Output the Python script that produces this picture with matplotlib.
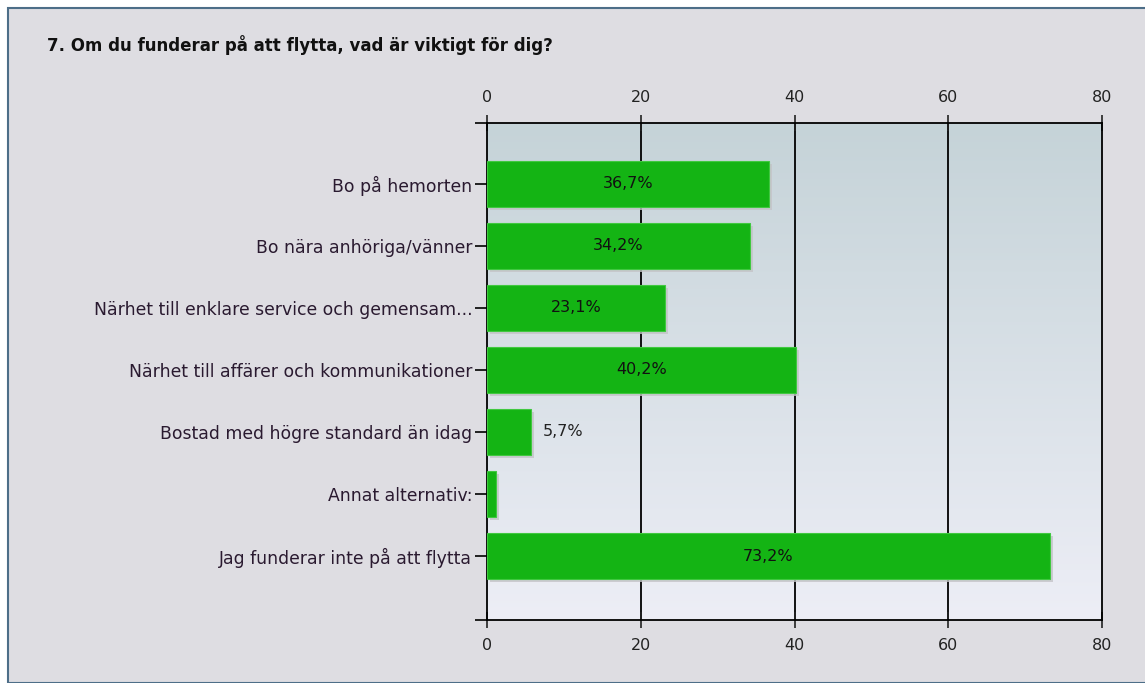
import numpy as np
import matplotlib
matplotlib.use('Agg')
import matplotlib.pyplot as plt
from matplotlib.patches import Rectangle
import matplotlib.transforms as mtransforms

# Data
title = '7. Om du funderar på att flytta, vad är viktigt för dig?'
categories = [
    'Bo på hemorten',
    'Bo nära anhöriga/vänner',
    'Närhet till enklare service och gemensam...',
    'Närhet till affärer och kommunikationer',
    'Bostad med högre standard än idag',
    'Annat alternativ:',
    'Jag funderar inte på att flytta',
]
values = [36.7, 34.2, 23.1, 40.2, 5.7, 1.2, 73.2]
labels = ['36,7%', '34,2%', '23,1%', '40,2%', '5,7%', '', '73,2%']
xticks = [0, 20, 40, 60, 80]

plt.rcParams['font.family'] = ['DejaVu Sans']

fig = plt.figure(figsize=(11.45, 6.83), dpi=100)
fig.patch.set_facecolor('white')

# outer panel with border
panel = Rectangle((8 / 1145, 0), 1.0, 1 - 8 / 683, transform=fig.transFigure,
                  facecolor='#dedde2', edgecolor='#4d6e88', linewidth=1.5, zorder=0)
fig.patches.append(panel)

fig.text(47 / 1145, 1 - 45 / 683, title, fontsize=12, fontweight='bold',
         color='#111111', va='center', ha='left')

ax = fig.add_axes([487 / 1145, 1 - 620 / 683, 615 / 1145, 497 / 683])
ax.set_zorder(2)
y_lo, y_hi = 7.03, -0.98
ax.set_xlim(0, 80)
ax.set_ylim(y_lo, y_hi)

# gradient background
grad = np.linspace(0, 1, 256).reshape(-1, 1)
top = np.array([0xc5, 0xd3, 0xd8]) / 255
bot = np.array([0xed, 0xee, 0xf6]) / 255
img = top + (bot - top) * grad[:, :, None]
ax.imshow(img, extent=[0, 80, y_lo, y_hi], aspect='auto', zorder=0)

for x in xticks[1:-1]:
    ax.axvline(x, color='black', linewidth=1.3, zorder=1)

y = np.arange(len(categories))
shadow = mtransforms.offset_copy(ax.transData, fig=fig, x=3, y=-3, units='dots')
ax.barh(y, values, height=0.74, color='#c4c4c8', alpha=0.8, transform=shadow, zorder=2)
ax.barh(y, values, height=0.74, color='#14b414', edgecolor='#40c840', linewidth=0.8, zorder=3)

for yi, v, lab in zip(y, values, labels):
    if not lab:
        continue
    if v > 15:
        ax.text(v / 2, yi, lab, ha='center', va='center', fontsize=11.5, color='#111111', zorder=4)
    else:
        ax.text(v + 1.5, yi, lab, ha='left', va='center', fontsize=11.5, color='#222222', zorder=4)

ax.set_yticks(y)
ax.set_yticklabels(categories, fontsize=12.4, color='#2a1a30')
ax.set_yticks([y_lo, y_hi], minor=True)
ax.set_xticks(xticks)
ax.tick_params(axis='x', top=True, labeltop=True, bottom=True, labelbottom=True,
               direction='inout', length=12, width=1.2, labelsize=11.5, colors='#222222', pad=7)
ax.tick_params(axis='y', which='both', direction='out', length=9, width=1.2, pad=1.5)
for s in ax.spines.values():
    s.set_color('black')
    s.set_linewidth(1.3)

fig.savefig('out.png', dpi=100, facecolor=fig.get_facecolor())
